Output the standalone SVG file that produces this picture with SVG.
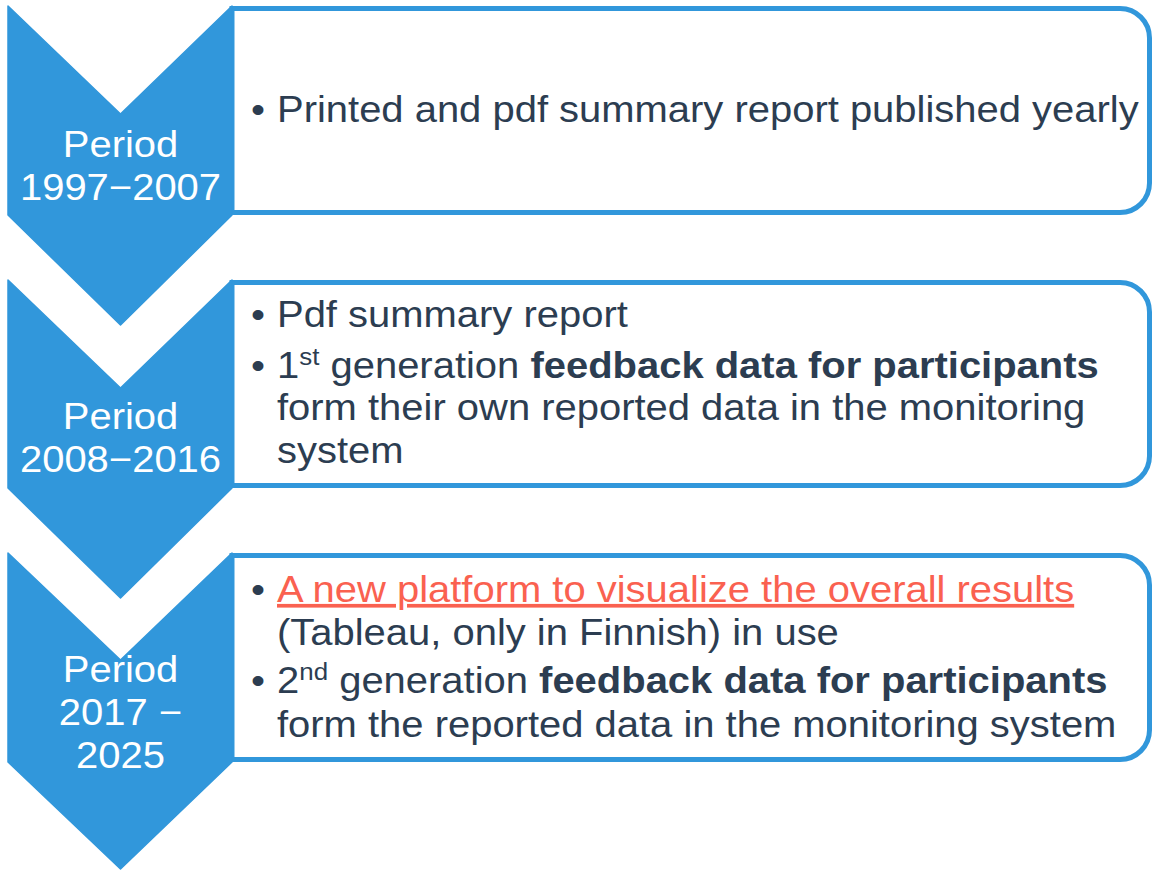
<svg xmlns="http://www.w3.org/2000/svg" width="1152" height="870" viewBox="0 0 1152 870">
<style>
.box{fill:#ffffff;stroke:#3197DB;stroke-width:5}
.chev{fill:#3197DB;stroke:#3197DB;stroke-width:1.5;stroke-linejoin:round}
.lbl{font-family:"Liberation Sans",Arial,sans-serif;font-size:37px;fill:#ffffff;text-anchor:middle}
.txt{font-family:"Liberation Sans",Arial,sans-serif;font-size:37px;fill:#2C3D51}
.b{font-weight:bold}
.sup{font-size:24px}
.link{fill:#FA6150;text-decoration:underline}
</style>
<rect width="1152" height="870" fill="#ffffff"/>
<g id="box1">
<path class="box" d="M232 8.5 H1120 A29.5 29.5 0 0 1 1149.5 38 V183 A29.5 29.5 0 0 1 1120 212.5 H232 Z"/>
<g transform="translate(277 0) scale(1.08 1)">
<text class="txt" x="-24" y="122">•</text>
<text class="txt" x="0" y="122">Printed and pdf summary report published yearly</text>
</g>
</g>
<g id="box2">
<path class="box" d="M232 282.5 H1120 A29.5 29.5 0 0 1 1149.5 312 V456 A29.5 29.5 0 0 1 1120 485.5 H232 Z"/>
<g transform="translate(277 0) scale(1.08 1)">
<text class="txt" x="-24" y="327">•</text>
<text class="txt" x="0" y="327">Pdf summary report</text>
<text class="txt" x="-24" y="378">•</text>
<text class="txt" x="0" y="378">1<tspan class="sup" dy="-13">st</tspan><tspan dy="13"> generation </tspan><tspan class="b">feedback data for participants</tspan></text>
<text class="txt" x="0" y="420">form their own reported data in the monitoring</text>
<text class="txt" x="0" y="463">system</text>
</g>
</g>
<g id="box3">
<path class="box" d="M232 555.5 H1120 A29.5 29.5 0 0 1 1149.5 585 V730 A29.5 29.5 0 0 1 1120 759.5 H232 Z"/>
<g transform="translate(277 0) scale(1.08 1)">
<text class="txt" x="-24" y="602">•</text>
<text class="txt link" x="0" y="602">A new platform to visualize the overall results</text>
<text class="txt" x="0" y="645">(Tableau, only in Finnish) in use</text>
<text class="txt" x="-24" y="693">•</text>
<text class="txt" x="0" y="693">2<tspan class="sup" dy="-13">nd</tspan><tspan dy="13"> generation </tspan><tspan class="b">feedback data for participants</tspan></text>
<text class="txt" x="0" y="737">form the reported data in the monitoring system</text>
</g>
</g>
<g id="chevron1">
<polygon class="chev" points="8,6 120.5,114 232,6 232,215 120.5,325 8,215"/>
<g transform="translate(120.5 0) scale(1.08 1)">
<text class="lbl" x="0" y="157">Period</text>
<text class="lbl" x="0" y="200">1997−2007</text>
</g>
</g>
<g id="chevron2">
<polygon class="chev" points="8,280 120.5,388 232,280 232,488 120.5,598 8,488"/>
<g transform="translate(120.5 0) scale(1.08 1)">
<text class="lbl" x="0" y="429">Period</text>
<text class="lbl" x="0" y="472">2008−2016</text>
</g>
</g>
<g id="chevron3">
<polygon class="chev" points="8,553 120.5,660 232,553 232,762 120.5,869 8,762"/>
<g transform="translate(120.5 0) scale(1.08 1)">
<text class="lbl" x="0" y="682">Period</text>
<text class="lbl" x="0" y="725">2017 −</text>
<text class="lbl" x="0" y="768">2025</text>
</g>
</g>
<g id="connectors"></g>
</svg>
